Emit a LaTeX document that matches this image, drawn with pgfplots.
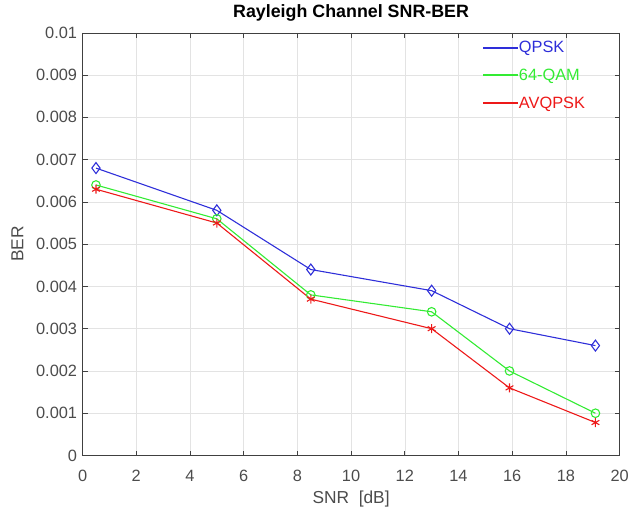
\documentclass[border=0pt]{standalone}
\usepackage{fontspec}
\setmainfont{Liberation Sans}
\usepackage{pgfplots}
\pgfplotsset{compat=1.18}

\definecolor{qpsk}{rgb}{0.18,0.18,0.85}
\definecolor{qam}{rgb}{0.2,0.92,0.2}
\definecolor{avq}{rgb}{0.93,0.1,0.1}
\definecolor{ticktxt}{gray}{0.3}

\begin{document}
\begin{tikzpicture}
\begin{axis}[
  at={(0,0)}, anchor=south west,
  scale only axis,
  width=540bp, height=425bp,
  xmin=0, xmax=20, ymin=0, ymax=0.01,
  xtick={0,2,...,20},
  ytick={0,0.001,...,0.0105},
  scaled y ticks=false,
  yticklabel style={/pgf/number format/fixed, /pgf/number format/precision=3, xshift=-2bp},
  xticklabel style={yshift=-11bp},
  /pgf/number format/assume math mode=true,
  tick label style={font=\fontsize{16.5}{18}\selectfont, text=ticktxt},
  label style={font=\fontsize{17.5}{20}\selectfont, text=ticktxt},
  title style={font=\fontsize{18}{21}\selectfont\bfseries, yshift=2bp},
  title={Rayleigh Channel SNR-BER},
  xlabel={SNR\ \ [dB]},
  ylabel={BER},
  ylabel style={yshift=6bp},
  xlabel style={yshift=-3bp},
  grid=major,
  major grid style={gray!22, line width=0.5bp},
  axis line style={black!75, line width=0.6bp},
  tick style={black!75, line width=0.6bp},
  tick align=inside,
  major tick length=5bp,
  legend style={draw=none, fill=none, at={(0.74,0.99)}, anchor=north west,
    font=\fontsize{16.5}{18}\selectfont, row sep=11bp, inner sep=2bp,
    nodes={inner xsep=0bp}},
  legend cell align=left,
  legend image code/.code={\draw[#1, mark=none] (0bp,0bp) -- (35bp,0bp);},
  legend image post style={line width=2bp},
]
\addplot[qpsk, line width=1.1bp, mark=diamond, mark size=5.5bp, mark options={solid}]
  coordinates {(0.5,0.0068) (5,0.0058) (8.5,0.0044) (13,0.0039) (15.9,0.0030) (19.1,0.0026)};
\addlegendentry{\textcolor{qpsk}{QPSK}}
\addplot[qam, line width=1.1bp, mark=o, mark size=4.3bp]
  coordinates {(0.5,0.0064) (5,0.0056) (8.5,0.0038) (13,0.0034) (15.9,0.0020) (19.1,0.0010)};
\addlegendentry{\textcolor{qam}{64-QAM}}
\addplot[avq, line width=1.1bp, mark=asterisk, mark size=4.5bp]
  coordinates {(0.5,0.0063) (5,0.0055) (8.5,0.0037) (13,0.0030) (15.9,0.0016) (19.1,0.00078)};
\addlegendentry{\textcolor{avq}{AVQPSK}}
\end{axis}
\useasboundingbox (-83bp,-54bp) rectangle (549bp,458bp);
\end{tikzpicture}
\end{document}
